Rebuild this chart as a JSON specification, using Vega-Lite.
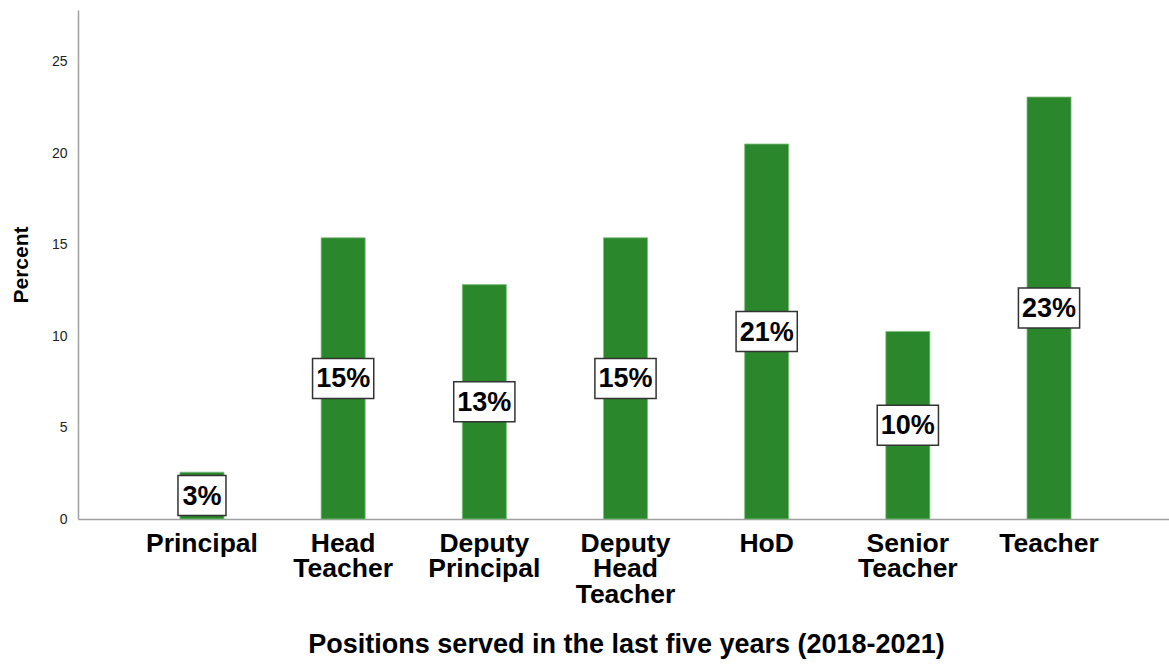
{
  "$schema": "https://vega.github.io/schema/vega-lite/v6.json",
  "autosize": "none",
  "width": 1091,
  "height": 509,
  "padding": {"left": 78, "top": 10, "right": 0, "bottom": 145},
  "background": "white",
  "config": {
    "view": {"stroke": null},
    "font": "Liberation Sans",
    "axis": {"domainColor": "#a0a0a0", "domainWidth": 1.5, "ticks": false, "grid": false}
  },
  "data": {
    "values": [
      {"position": "Principal", "pct": 2.56, "label": "3%"},
      {"position": "Head Teacher", "pct": 15.38, "label": "15%"},
      {"position": "Deputy Principal", "pct": 12.82, "label": "13%"},
      {"position": "Deputy Head Teacher", "pct": 15.38, "label": "15%"},
      {"position": "HoD", "pct": 20.51, "label": "21%"},
      {"position": "Senior Teacher", "pct": 10.26, "label": "10%"},
      {"position": "Teacher", "pct": 23.08, "label": "23%"}
    ]
  },
  "transform": [{"calculate": "datum.pct / 2", "as": "mid"}],
  "encoding": {
    "x": {
      "field": "position",
      "type": "nominal",
      "sort": null,
      "scale": {"paddingInner": 0.688, "paddingOuter": 0.708},
      "axis": {
        "title": "Positions served in the last five years (2018-2021)",
        "titleFontSize": 27,
        "titleFontWeight": "bold",
        "titleColor": "black",
        "titlePadding": 24,
        "titleX": 548,
        "labelAngle": 0,
        "labelFontSize": 26.5,
        "labelFontWeight": "bold",
        "labelColor": "black",
        "labelLineHeight": 25.5,
        "labelPadding": 11,
        "labelOffset": 2,
        "labelExpr": "split(datum.label, ' ')"
      }
    }
  },
  "layer": [
    {
      "mark": {"type": "bar", "color": "#2b872b", "stroke": "#7fbf7f", "strokeWidth": 0.8, "xOffset": 2},
      "encoding": {
        "y": {
          "field": "pct",
          "type": "quantitative",
          "scale": {"domain": [0, 27.84], "nice": false},
          "axis": {
            "title": "Percent",
            "titleFontSize": 21,
            "titleFontWeight": "bold",
            "titleColor": "black",
            "titlePadding": 20,
            "values": [0, 5, 10, 15, 20, 25],
            "labelFontSize": 14,
            "labelColor": "#222",
            "labelPadding": 11
          }
        }
      }
    },
    {
      "mark": {"type": "point", "filled": true, "fill": "white", "stroke": "#333", "strokeWidth": 1.5, "opacity": 1, "size": 1600, "xOffset": 2},
      "encoding": {
        "y": {"field": "mid", "type": "quantitative"},
        "shape": {
          "field": "label",
          "type": "nominal",
          "legend": null,
          "scale": {
            "domain": ["3%", "15%", "13%", "21%", "10%", "23%"],
            "range": [
              "M-1.2,-1L1.2,-1L1.2,1L-1.2,1Z",
              "M-1.53,-1L1.53,-1L1.53,1L-1.53,1Z",
              "M-1.53,-1L1.53,-1L1.53,1L-1.53,1Z",
              "M-1.53,-1L1.53,-1L1.53,1L-1.53,1Z",
              "M-1.53,-1L1.53,-1L1.53,1L-1.53,1Z",
              "M-1.53,-1L1.53,-1L1.53,1L-1.53,1Z"
            ]
          }
        }
      }
    },
    {
      "mark": {"type": "text", "fontSize": 27, "fontWeight": "bold", "color": "black", "baseline": "middle", "dy": 1, "xOffset": 2},
      "encoding": {
        "y": {"field": "mid", "type": "quantitative"},
        "text": {"field": "label"}
      }
    }
  ]
}
